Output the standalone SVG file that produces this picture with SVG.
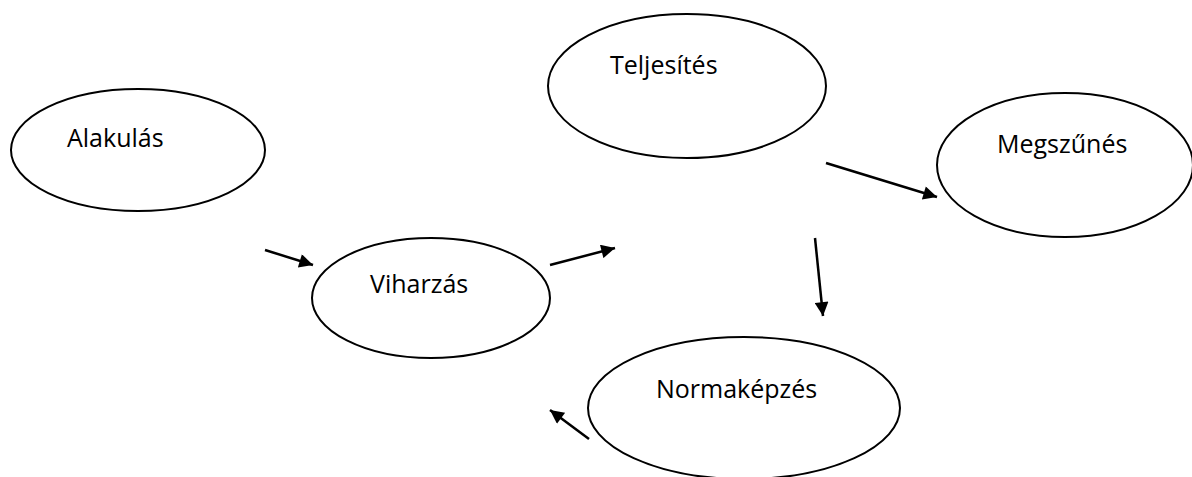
<svg xmlns="http://www.w3.org/2000/svg" width="1192" height="477" viewBox="0 0 1192 477">
<style>
.node{fill:#fff;stroke:#000;stroke-width:2}
.lbl{font-family:"Open Sans","Liberation Sans",sans-serif;font-size:25px;fill:#000}
.conn{stroke:#000;stroke-width:2.5;fill:none;marker-end:url(#ah)}
</style>
<defs>
<marker id="ah" viewBox="0 0 10 10" refX="10" refY="5" markerWidth="6.5" markerHeight="5.5" markerUnits="strokeWidth" orient="auto">
<path d="M0,0 L10,5 L0,10 Z" fill="#000"/>
</marker>
</defs>
<rect width="1192" height="477" fill="#fff"/>
<g id="node-alakulas"><ellipse class="node" cx="138" cy="150" rx="127" ry="61"/><text class="lbl" x="67" y="147">Alakulás</text></g>
<g id="node-viharzas"><ellipse class="node" cx="431" cy="298" rx="119" ry="60"/><text class="lbl" x="370" y="293">Viharzás</text></g>
<g id="node-teljesites"><ellipse class="node" cx="687" cy="86" rx="139" ry="72"/><text class="lbl" x="610" y="74">Teljesítés</text></g>
<g id="node-megszunes"><ellipse class="node" cx="1065" cy="165" rx="128" ry="72"/><text class="lbl" x="997" y="153">Megszűnés</text></g>
<g id="node-normakepzes"><ellipse class="node" cx="744" cy="408" rx="156" ry="71"/><text class="lbl" x="656" y="398">Normaképzés</text></g>
<g id="connectors">
<line class="conn" x1="265" y1="250" x2="313" y2="265"/>
<line class="conn" x1="550" y1="265" x2="615" y2="248"/>
<line class="conn" x1="826" y1="163" x2="937" y2="197"/>
<line class="conn" x1="815" y1="238" x2="823" y2="316"/>
<line class="conn" x1="589" y1="439" x2="550" y2="410"/>
</g>
</svg>
